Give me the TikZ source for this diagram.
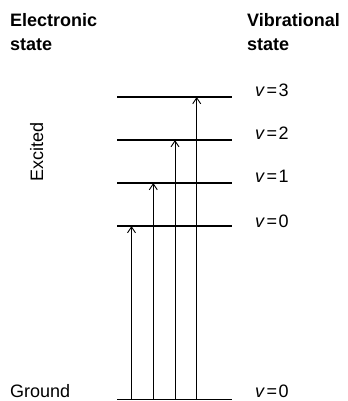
\documentclass[tikz,border=0pt]{standalone}
\usepackage{fontspec}
\setmainfont{Liberation Sans}
\usetikzlibrary{arrows.meta}
\newcommand{\vlab}[1]{\textit{v}\kern1.5bp=\kern1.5bp#1}
\begin{document}
\begin{tikzpicture}[x=1bp,y=-1bp,
  txt/.style={inner sep=0pt,font=\fontsize{18bp}{22bp}\selectfont},
  head/.style={txt,font=\fontsize{18bp}{22bp}\selectfont\bfseries},
  level/.style={line width=1.2bp},
  trans/.style={line width=0.9bp,-{Straight Barb[length=6bp,width=8bp,line width=0.9bp]}}]
\useasboundingbox (0,0) rectangle (348,401);
% headings
\node[head,anchor=base west] (el1) at (10,26) {Electronic};
\node[head,anchor=base west] (el2) at (10,50) {state};
\node[head,anchor=base west] (vb1) at (247,26) {Vibrational};
\node[head,anchor=base west] (vb2) at (247,50) {state};
% state labels
\node[txt,anchor=base,rotate=90] (exc) at (43,152) {Excited};
\node[txt,anchor=base west,text depth=0pt] (gnd) at (10,397) {Ground};
% level endpoints
\coordinate (L3a) at (117,97);  \coordinate (L3b) at (232,97);
\coordinate (L2a) at (117,140); \coordinate (L2b) at (232,140);
\coordinate (L1a) at (117,183); \coordinate (L1b) at (232,183);
\coordinate (L0a) at (117,226); \coordinate (L0b) at (232,226);
\coordinate (Ga) at (117,399.5); \coordinate (Gb) at (232,399.5);
\draw[level] (L3a) -- (L3b);
\draw[level] (L2a) -- (L2b);
\draw[level] (L1a) -- (L1b);
\draw[level] (L0a) -- (L0b);
\draw[level] (Ga) -- (Gb);
% vibrational labels
\node[txt,anchor=base west] (v3) at (255,96) {\vlab{3}};
\node[txt,anchor=base west] (v2) at (255,139) {\vlab{2}};
\node[txt,anchor=base west] (v1) at (255,182) {\vlab{1}};
\node[txt,anchor=base west] (v0) at (255,227) {\vlab{0}};
\node[txt,anchor=base west,text depth=0pt] (vg) at (255,397) {\vlab{0}};
% transitions
\coordinate (s0) at (131.5,399.5); \coordinate (e0) at (131.5,226);
\coordinate (s1) at (153.3,399.5); \coordinate (e1) at (153.3,183);
\coordinate (s2) at (175,399.5);   \coordinate (e2) at (175,140);
\coordinate (s3) at (196.7,399.5); \coordinate (e3) at (196.7,97);
\draw[trans] (s0) -- (e0);
\draw[trans] (s1) -- (e1);
\draw[trans] (s2) -- (e2);
\draw[trans] (s3) -- (e3);
\end{tikzpicture}
\end{document}
